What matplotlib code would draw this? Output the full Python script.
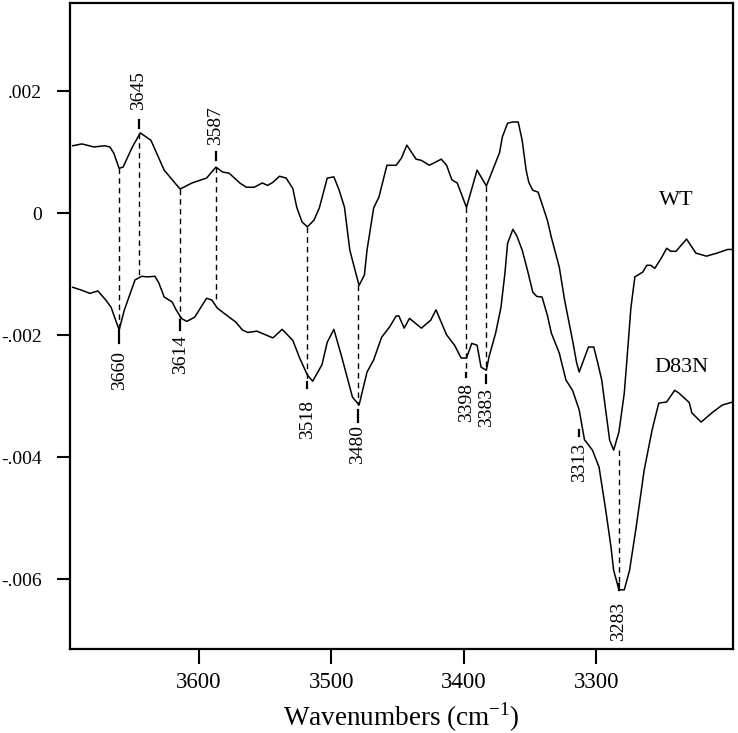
import numpy as np
import matplotlib
matplotlib.use('Agg')
import matplotlib.pyplot as plt

plt.rcParams['font.family'] = ['Liberation Serif', 'DejaVu Serif']
plt.rcParams['mathtext.fontset'] = 'custom'
plt.rcParams['mathtext.rm'] = 'Liberation Serif'

# WT difference spectrum (wavenumber, absorbance)
wt_x = [3695, 3688, 3679, 3671, 3667, 3664, 3660, 3657, 3650, 3644, 3636, 3626,
        3614, 3605, 3594, 3587, 3582, 3577, 3569, 3564, 3558, 3552, 3548, 3544,
        3539, 3534, 3529, 3526, 3522, 3518, 3513, 3509, 3503, 3498, 3494, 3490,
        3486, 3483, 3479, 3475, 3473, 3468, 3464, 3458, 3451, 3447, 3443, 3436,
        3432, 3426, 3417, 3413, 3409, 3405, 3398, 3390, 3383, 3373, 3371, 3367,
        3363, 3359, 3356, 3353, 3351, 3348, 3344, 3342, 3337, 3334, 3328, 3324,
        3318, 3315, 3313, 3306, 3302, 3299, 3296, 3294, 3290, 3287, 3283, 3279,
        3277, 3274, 3271, 3265, 3262, 3259, 3256, 3251, 3247, 3244, 3240, 3232,
        3225, 3217, 3209, 3201, 3197]
wt_y = [0.00111, 0.00114, 0.00109, 0.00111, 0.00109, 0.00099, 0.00074, 0.00076,
        0.00109, 0.00132, 0.00120, 0.00071, 0.00040, 0.00050, 0.00058, 0.00076,
        0.00068, 0.00066, 0.00050, 0.00043, 0.00043, 0.00050, 0.00046, 0.00051,
        0.00061, 0.00058, 0.00041, 0.00010, -0.00014, -0.00022, -0.00011, 0.00009,
        0.00058, 0.00060, 0.00038, 0.00010, -0.00060, -0.00085, -0.00118, -0.00101,
        -0.00060, 0.00009, 0.00027, 0.00079, 0.00079, 0.00091, 0.00112, 0.00089,
        0.00087, 0.00079, 0.00089, 0.00079, 0.00055, 0.00050, 0.00010, 0.00071,
        0.00045, 0.00100, 0.00125, 0.00148, 0.00150, 0.00150, 0.00120, 0.00071,
        0.00051, 0.00038, 0.00035, 0.00022, -0.00011, -0.00039, -0.00088, -0.00142,
        -0.00208, -0.00244, -0.00260, -0.00219, -0.00219, -0.00245, -0.00273, -0.00306,
        -0.00372, -0.00388, -0.00358, -0.00295, -0.00240, -0.00155, -0.00104, -0.00096,
        -0.00085, -0.00085, -0.00090, -0.00073, -0.00057, -0.00062, -0.00062, -0.00042,
        -0.00065, -0.00070, -0.00065, -0.00059, -0.00059]

# D83N difference spectrum
d83n_x = [3695, 3688, 3682, 3676, 3670, 3666, 3660, 3656, 3648, 3643, 3639, 3633,
          3630, 3626, 3620, 3617, 3613, 3609, 3603, 3594, 3590, 3586, 3577, 3572,
          3567, 3563, 3556, 3544, 3537, 3529, 3524, 3518, 3514, 3507, 3503, 3498,
          3492, 3484, 3479, 3473, 3468, 3462, 3456, 3451, 3449, 3445, 3441, 3432,
          3425, 3421, 3413, 3407, 3402, 3398, 3394, 3390, 3387, 3383, 3381, 3376,
          3372, 3369, 3367, 3363, 3360, 3356, 3352, 3348, 3345, 3341, 3337, 3334,
          3328, 3323, 3318, 3313, 3309, 3303, 3298, 3293, 3289, 3287, 3283, 3279,
          3275, 3270, 3264, 3258, 3253, 3247, 3241, 3238, 3230, 3228, 3221, 3213,
          3205, 3197]
d83n_y = [-0.00121, -0.00126, -0.00131, -0.00127, -0.00142, -0.00154, -0.00191, -0.00158,
          -0.00109, -0.00103, -0.00104, -0.00103, -0.00114, -0.00137, -0.00145, -0.00158,
          -0.00172, -0.00177, -0.00170, -0.00139, -0.00142, -0.00155, -0.00170, -0.00178,
          -0.00191, -0.00195, -0.00193, -0.00204, -0.00190, -0.00208, -0.00236, -0.00265,
          -0.00275, -0.00248, -0.00211, -0.00190, -0.00236, -0.00301, -0.00314, -0.00260,
          -0.00240, -0.00203, -0.00186, -0.00168, -0.00168, -0.00188, -0.00172, -0.00188,
          -0.00175, -0.00158, -0.00199, -0.00216, -0.00237, -0.00237, -0.00213, -0.00216,
          -0.00252, -0.00257, -0.00235, -0.00196, -0.00154, -0.00098, -0.00049, -0.00026,
          -0.00037, -0.00060, -0.00093, -0.00129, -0.00136, -0.00137, -0.00167, -0.00196,
          -0.00229, -0.00273, -0.00290, -0.00322, -0.00371, -0.00388, -0.00416, -0.00486,
          -0.00547, -0.00585, -0.00617, -0.00617, -0.00585, -0.00514, -0.00421, -0.00355,
          -0.00311, -0.00309, -0.00290, -0.00294, -0.00310, -0.00327, -0.00342, -0.00327,
          -0.00314, -0.00309]

# peak markers: wavenumber, dashed span (top, bottom), solid tick (y0, y1), label y, side
peak_nu = [3660, 3645, 3614, 3587, 3518, 3480, 3398, 3383, 3313, 3283]
dash_top = [0.00074, 0.00132, 0.00040, 0.00076, -0.00022, -0.00118, 0.00010, 0.00045, None, -0.00388]
dash_bot = [-0.00191, -0.00103, -0.00172, -0.00142, -0.00276, -0.00314, -0.00262, -0.00254, None, -0.00605]
tick_y0 = [-0.00193, 0.00140, -0.00175, 0.00087, -0.00276, -0.00322, -0.00262, -0.00265, -0.00355, -0.00607]
tick_y1 = [-0.00213, 0.00153, -0.00191, 0.00100, -0.00286, -0.00342, -0.00268, -0.00278, -0.00365, -0.00618]
label_y = [-0.00225, 0.00170, -0.00199, 0.00112, -0.00305, -0.00347, -0.00278, -0.00286, -0.00376, -0.00637]
label_above = [False, True, False, True, False, False, False, False, False, False]

y_ticks = [0.002, 0, -0.002, -0.004, -0.006]
y_ticklabels = ['.002', '0', '-.002', '-.004', '-.006']
x_ticks = [3600, 3500, 3400, 3300]

fig = plt.figure(figsize=(7.38, 7.33), dpi=100)
ax = fig.add_axes([0.0949, 0.1146, 0.8983, 0.8813])

ax.plot(wt_x, wt_y, color='k', lw=1.1)
ax.plot(d83n_x, d83n_y, color='k', lw=1.1)

for i, nu in enumerate(peak_nu):
    if dash_top[i] is not None:
        ax.plot([nu, nu], [dash_top[i], dash_bot[i]], color='k', lw=1.0,
                linestyle=(0, (4, 3)))
    ax.plot([nu, nu], [tick_y0[i], tick_y1[i]], color='k', lw=1.6)
    ax.text(nu, label_y[i], str(nu), rotation=90, ha='center',
            va='bottom' if label_above[i] else 'top', fontsize=14)

ax.text(3240, 0.00022, 'WT', ha='center', va='center', fontsize=16)
ax.text(3236, -0.00252, 'D83N', ha='center', va='center', fontsize=16)

ax.set_xlim(3697, 3197)
ax.set_ylim(-0.00714, 0.00345)
ax.set_xticks(x_ticks)
ax.set_xticklabels([str(t) for t in x_ticks], fontsize=16.5)
ax.set_yticks(y_ticks)
ax.set_yticklabels(y_ticklabels, fontsize=14)
ax.tick_params(axis='y', direction='out', length=9.5, width=1.5, pad=10.5)
ax.tick_params(axis='x', direction='out', length=11, width=1.5, pad=5.5)
for s in ax.spines.values():
    s.set_linewidth(1.6)

ax.set_xlabel('Wavenumbers (cm$^{-1}$)', fontsize=19.5, labelpad=5)

fig.savefig('out.png', dpi=100)
